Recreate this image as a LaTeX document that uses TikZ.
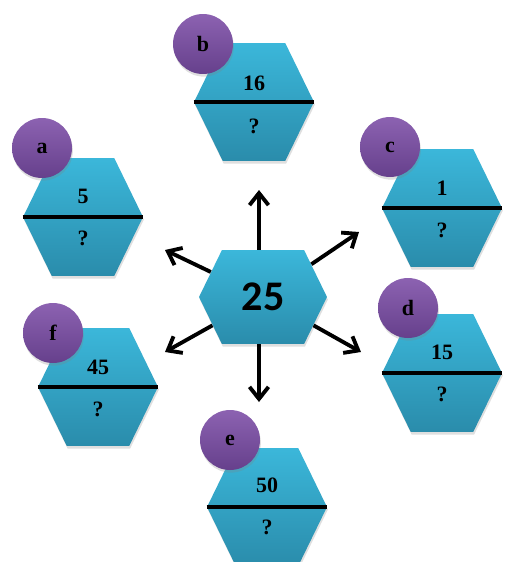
\documentclass[tikz,border=0pt]{standalone}
\usepackage{fontspec}
\setmainfont{Liberation Serif}
\newfontfamily\hubfont{Carlito}
\usetikzlibrary{arrows.meta,shapes.symbols,shadows}
\definecolor{hextop}{HTML}{3BB7DA}
\definecolor{hexbot}{HTML}{2A8CAB}
\definecolor{tagtop}{HTML}{8C62B1}
\definecolor{tagbot}{HTML}{66408C}

\begin{document}
\begin{tikzpicture}[
    x=0.02cm, y=-0.02cm,
    >={Straight Barb[length=2.4mm,width=3.8mm]},
    font=\fontsize{12.5}{14}\selectfont\bfseries,
    card/.style={shape=signal, signal to=east and west,
                 signal pointer angle=128, inner sep=0pt,
                 minimum width=2.4cm, minimum height=2.36cm,
                 top color=hextop, bottom color=hexbot,
                 drop shadow={shadow xshift=0.5pt, shadow yshift=-1.5pt,
                              opacity=0.25}},
    hub/.style={card, minimum width=2.56cm, minimum height=1.88cm,
                font=\hubfont\fontsize{24}{28}\selectfont\bfseries},
    tag/.style={circle, minimum size=1.2cm, inner sep=0pt,
                top color=tagtop, bottom color=tagbot,
                drop shadow={shadow xshift=0.5pt, shadow yshift=-1.5pt,
                             opacity=0.25}},
    bar/.style={line width=2pt, black},
    e/.style={->, line width=2.2pt, black},
  ]
    \useasboundingbox (0,0) rectangle (509,562);
    % --- cards -------------------------------------------------------------
    \node[card] (hexa) at (83,217)  {};
    \node[card] (hexb) at (254,102) {};
    \node[card] (hexc) at (442,208) {};
    \node[card] (hexd) at (442,373) {};
    \node[card] (hexe) at (267,507) {};
    \node[card] (hexf) at (98,387)  {};
    \foreach \c in {a,b,c,d,e,f}
      \draw[bar] (hex\c.west) -- (hex\c.east);
    % --- values ------------------------------------------------------------
    \node (numa) at (83,196)  {5};
    \node (numb) at (254,83)  {16};
    \node (numc) at (442,188) {1};
    \node (numd) at (442,352) {15};
    \node (nume) at (267,485) {50};
    \node (numf) at (98,367)  {45};
    \node (qa) at (83,238)  {?};
    \node (qb) at (254,126) {?};
    \node (qc) at (442,230) {?};
    \node (qd) at (442,394) {?};
    \node (qe) at (267,527) {?};
    \node (qf) at (98,409)  {?};
    % --- letters -----------------------------------------------------------
    \node[tag] (taga) at (42,148)  {a};
    \node[tag] (tagb) at (203,44)  {b};
    \node[tag] (tagc) at (390,147) {c};
    \node[tag] (tagd) at (408,308) {d};
    \node[tag] (tage) at (230,440) {e};
    \node[tag] (tagf) at (53,333)  {f};
    % --- hub and arrows ----------------------------------------------------
    \node[hub] (ctr) at (263,297) {25};
    \coordinate (tipup) at (259,190);
    \coordinate (tipdn) at (259,402);
    \coordinate (tipur) at (359,232);
    \coordinate (tipdr) at (361,352);
    \coordinate (tipul) at (165,250);
    \coordinate (tipdl) at (165,352);
    \draw[e] (tipup |- ctr.north) -- (tipup);
    \draw[e] (tipdn |- ctr.south) -- (tipdn);
    \draw[e] (ctr) -- (tipur);
    \draw[e] (ctr) -- (tipdr);
    \draw[e] (ctr) -- (tipul);
    \draw[e] (ctr) -- (tipdl);
  \end{tikzpicture}
\end{document}
